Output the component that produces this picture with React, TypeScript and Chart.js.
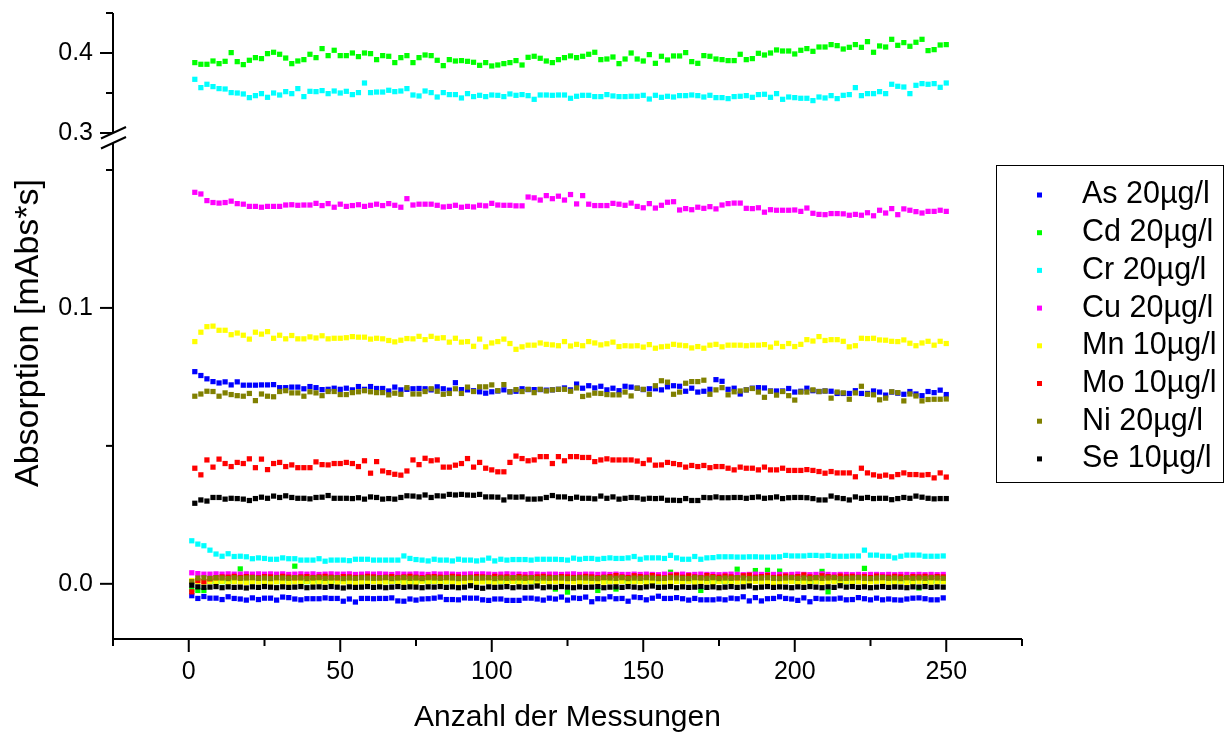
import { useEffect, useRef } from 'react';
import { Chart, registerables } from 'chart.js';

Chart.register(...registerables);

const FONT = '"Liberation Sans", Arial, Helvetica, sans-serif';

// Run numbers: blanks on odd runs, standards on even runs
const blankRuns = [1,3,5,7,9,11,13,15,17,19,21,23,25,27,29,31,33,35,37,39,41,43,45,47,49,51,53,55,57,59,61,63,65,67,69,71,73,75,77,79,81,83,85,87,89,91,93,95,97,99,101,103,105,107,109,111,113,115,117,119,121,123,125,127,129,131,133,135,137,139,141,143,145,147,149,151,153,155,157,159,161,163,165,167,169,171,173,175,177,179,181,183,185,187,189,191,193,195,197,199,201,203,205,207,209,211,213,215,217,219,221,223,225,227,229,231,233,235,237,239,241,243,245,247,249];
const standardRuns = [2,4,6,8,10,12,14,16,18,20,22,24,26,28,30,32,34,36,38,40,42,44,46,48,50,52,54,56,58,60,62,64,66,68,70,72,74,76,78,80,82,84,86,88,90,92,94,96,98,100,102,104,106,108,110,112,114,116,118,120,122,124,126,128,130,132,134,136,138,140,142,144,146,148,150,152,154,156,158,160,162,164,166,168,170,172,174,176,178,180,182,184,186,188,190,192,194,196,198,200,202,204,206,208,210,212,214,216,218,220,222,224,226,228,230,232,234,236,238,240,242,244,246,248,250];

const elementLabels = ['As 20µg/l', 'Cd 20µg/l', 'Cr 20µg/l', 'Cu 20µg/l', 'Mn 10µg/l', 'Mo 10µg/l', 'Ni 20µg/l', 'Se 10µg/l'];
const elementColors = ['#0000ff', '#00ff00', '#00ffff', '#ff00ff', '#ffff00', '#ff0000', '#808000', '#000000'];
// elements whose standards sit on the upper (broken-off) part of the axis
const upperAxisElements = ['Cd 20µg/l', 'Cr 20µg/l'];

// Absorption of the standards [mAbs*s]
const asStandard = [
  0.0769,0.0755,0.0743,0.0733,0.0728,0.0732,0.0721,0.0732,0.0720,0.0720,
  0.0720,0.0721,0.0721,0.0722,0.0711,0.0711,0.0713,0.0713,0.0707,0.0715,
  0.0711,0.0704,0.0705,0.0709,0.0705,0.0709,0.0703,0.0715,0.0705,0.0715,
  0.0708,0.0708,0.0699,0.0713,0.0703,0.0705,0.0707,0.0708,0.0707,0.0703,
  0.0714,0.0707,
  0.0702,0.0729,0.0704,0.0703,0.0700,0.0696,0.0691,0.0696,0.0699,0.0703,
  0.0696,0.0698,0.0707,0.0704,0.0704,0.0704,0.0702,0.0703,0.0705,0.0710,
  0.0703,0.0724,0.0709,0.0718,0.0710,0.0716,0.0703,0.0709,0.0700,0.0716,
  0.0713,0.0709,0.0704,0.0707,0.0707,0.0703,0.0714,0.0718,0.0716,0.0698,
  0.0709,0.0695,0.0698,0.0705,0.0740,0.0734,0.0705,0.0709,0.0688,0.0703,
  0.0709,0.0711,0.0710,0.0699,0.0699,0.0699,0.0708,0.0695,0.0698,0.0709,
  0.0700,0.0697,0.0699,0.0698,0.0690,0.0690,0.0690,0.0700,
  0.0690,0.0690,0.0699,0.0695,0.0684,0.0695,0.0691,0.0687,
  0.0697,0.0688,0.0682,0.0697,0.0693,0.0702,0.0686
];
const cdStandard = [
  0.3880,0.3859,0.3859,0.3900,0.3867,0.3896,0.4005,0.3892,0.3855,0.3909,
  0.3942,0.3930,0.3992,0.4009,0.3984,0.3937,0.3867,0.3900,0.3917,0.3984,
  0.3942,0.4055,0.3967,0.4034,0.3967,0.3967,0.4000,0.3955,0.4000,0.3992,
  0.3917,0.3967,
  0.3959,0.3880,0.3942,0.3967,0.3880,0.3942,0.3975,0.3967,0.3909,0.3842,
  0.3917,0.3900,0.3905,0.3896,0.3884,0.3846,0.3880,0.3838,0.3850,0.3867,
  0.3880,0.3905,0.3850,0.3946,0.3959,0.3934,0.3900,0.3880,0.3917,0.3942,
  0.3963,0.3942,0.3959,0.3984,0.4009,0.3917,0.3925,0.3950,0.3867,0.3925,
  0.4000,0.3925,0.3900,0.3980,0.3871,0.3959,0.3913,0.3963,0.3963,0.4005,
  0.3892,0.3871,0.3967,0.3959,0.3925,0.3917,0.3905,0.3905,0.3984,0.3917,
  0.3930,0.3996,0.3975,0.4000,0.4038,0.4025,0.4025,0.3988,0.4034,0.4055,
  0.4021,0.4075,0.4075,0.4105,0.4092,0.4050,0.4071,0.4105,0.4071,0.4142,
  0.4009,0.4088,0.4075,0.4171,0.4096,0.4130,0.4084,0.4134,0.4171,0.4030,
  0.4042,0.4100,0.4105
];
const crStandard = [
  0.3671,0.3567,0.3609,0.3580,0.3555,0.3550,0.3505,0.3500,0.3488,0.3442,
  0.3467,0.3492,0.3446,0.3500,0.3475,0.3517,0.3492,0.3555,0.3455,0.3521,
  0.3517,0.3530,0.3492,0.3525,0.3500,0.3521,0.3480,0.3505,0.3625,0.3505,
  0.3512,0.3512,
  0.3534,0.3517,0.3525,0.3555,0.3475,0.3463,0.3525,0.3505,0.3450,0.3505,
  0.3480,0.3480,0.3438,0.3492,0.3455,0.3471,0.3455,0.3475,0.3471,0.3455,
  0.3488,0.3471,0.3480,0.3467,0.3421,0.3475,0.3475,0.3471,0.3475,0.3475,
  0.3434,0.3459,0.3471,0.3471,0.3455,0.3455,0.3480,0.3463,0.3455,0.3455,
  0.3459,0.3459,0.3471,0.3425,0.3471,0.3446,0.3459,0.3450,0.3467,0.3467,
  0.3475,0.3467,0.3450,0.3471,0.3442,0.3442,0.3430,0.3455,0.3459,0.3467,
  0.3446,0.3480,0.3484,0.3446,0.3492,0.3421,0.3450,0.3442,0.3434,0.3434,
  0.3405,0.3450,0.3438,0.3467,0.3430,0.3471,0.3480,0.3567,0.3467,
  0.3492,0.3492,0.3517,0.3492,0.3609,0.3584,0.3575,0.3492,0.3596,0.3617,
  0.3609,0.3617,0.3571,0.3625
];
const cuStandard = [
  0.1419,0.1413,0.1389,0.1382,0.1380,0.1382,0.1387,0.1378,0.1376,0.1368,
  0.1368,0.1365,0.1368,0.1368,0.1368,0.1373,0.1374,0.1372,0.1373,0.1373,
  0.1379,0.1371,0.1378,0.1365,0.1376,0.1368,0.1371,0.1374,0.1368,0.1372,
  0.1376,0.1371,0.1378,0.1372,0.1365,0.1396,0.1373,0.1376,0.1376,0.1376,
  0.1372,0.1366,
  0.1368,0.1372,0.1365,0.1368,0.1366,0.1372,0.1370,0.1379,0.1373,0.1372,
  0.1372,0.1370,0.1370,0.1402,0.1399,0.1391,0.1407,0.1396,0.1405,0.1391,
  0.1411,0.1377,0.1407,0.1376,0.1371,0.1371,0.1371,0.1379,0.1376,0.1372,
  0.1380,0.1368,0.1363,0.1378,0.1362,0.1372,0.1383,0.1385,0.1355,0.1360,
  0.1356,0.1365,0.1361,0.1367,0.1359,0.1373,0.1378,0.1380,0.1380,0.1361,
  0.1360,0.1363,0.1347,0.1356,0.1354,0.1354,0.1354,0.1355,0.1350,0.1362,
  0.1343,0.1339,0.1338,0.1342,0.1342,0.1341,0.1336,0.1339,0.1336,
  0.1345,0.1334,0.1354,0.1344,0.1360,0.1338,0.1359,0.1354,0.1349,0.1344,
  0.1350,0.1350,0.1354,0.1350
];
const mnStandard = [
  0.0878,0.0912,0.0932,0.0934,0.0919,0.0919,0.0903,0.0909,0.0901,0.0887,
  0.0912,0.0905,0.0914,0.0890,0.0901,0.0888,0.0900,0.0888,0.0888,0.0895,
  0.0891,0.0899,0.0888,0.0890,0.0890,0.0892,0.0896,0.0894,0.0894,0.0887,
  0.0890,0.0888,0.0882,0.0877,0.0883,0.0889,0.0888,0.0897,0.0885,0.0897,
  0.0890,0.0892,
  0.0876,0.0890,0.0876,0.0878,0.0861,0.0887,0.0859,0.0873,0.0878,0.0887,
  0.0871,0.0850,0.0859,0.0865,0.0865,0.0873,0.0868,0.0866,0.0863,0.0878,
  0.0862,0.0868,0.0863,0.0878,0.0873,0.0866,0.0870,0.0876,0.0860,0.0863,
  0.0862,0.0863,0.0858,0.0867,0.0854,0.0859,0.0861,0.0868,0.0865,0.0863,
  0.0855,0.0860,0.0854,0.0865,0.0868,0.0859,0.0865,0.0865,0.0865,0.0863,
  0.0865,0.0865,0.0867,0.0858,0.0872,0.0860,0.0871,0.0860,0.0868,0.0885,
  0.0880,0.0896,0.0882,0.0885,0.0885,0.0879,0.0859,0.0863,
  0.0890,0.0889,0.0890,0.0884,0.0883,0.0879,0.0878,0.0884,
  0.0872,0.0863,0.0873,0.0879,0.0865,0.0879,0.0871
];
const moStandard = [
  0.0419,0.0395,0.0449,0.0423,0.0452,0.0436,0.0425,0.0440,0.0436,0.0453,
  0.0421,0.0452,0.0414,0.0436,0.0440,0.0425,0.0431,0.0421,0.0421,0.0421,
  0.0442,0.0432,0.0431,0.0436,0.0436,0.0440,0.0436,0.0425,0.0446,0.0401,
  0.0443,0.0409,0.0403,0.0397,0.0394,0.0409,0.0449,0.0432,0.0455,0.0446,
  0.0449,0.0423,0.0423,0.0430,0.0436,0.0454,0.0423,0.0440,0.0419,0.0413,
  0.0406,0.0406,0.0440,0.0463,0.0454,0.0446,0.0449,0.0461,0.0461,0.0436,
  0.0461,0.0446,0.0461,0.0461,0.0458,0.0458,0.0443,0.0449,0.0453,0.0449,
  0.0449,0.0449,0.0449,0.0445,0.0436,0.0449,0.0430,0.0431,0.0440,0.0436,
  0.0432,0.0423,0.0429,0.0425,0.0429,0.0421,0.0425,0.0425,0.0419,0.0413,
  0.0423,0.0419,0.0419,0.0413,0.0423,0.0413,0.0413,0.0419,0.0411,0.0411,
  0.0411,0.0414,0.0411,0.0407,0.0401,0.0407,0.0402,0.0402,0.0402,0.0388,
  0.0419,0.0402,0.0395,0.0390,0.0394,0.0388,0.0396,0.0402,0.0396,0.0396,
  0.0394,0.0396,0.0384,0.0402,0.0387
];
const niStandard = [
  0.0680,0.0688,0.0698,0.0697,0.0680,0.0692,0.0686,0.0682,0.0680,0.0690,
  0.0664,0.0688,0.0680,0.0678,0.0697,0.0700,0.0692,0.0692,0.0680,0.0696,
  0.0692,0.0682,0.0697,0.0697,0.0686,0.0686,0.0693,0.0696,0.0700,0.0696,
  0.0693,0.0693,0.0685,0.0691,0.0687,0.0711,0.0688,0.0688,0.0697,0.0707,
  0.0698,0.0687,
  0.0690,0.0707,0.0690,0.0713,0.0697,0.0714,0.0714,0.0721,0.0700,0.0722,
  0.0696,0.0704,0.0697,0.0705,0.0693,0.0705,0.0699,0.0703,0.0705,0.0705,
  0.0698,0.0710,0.0679,0.0684,0.0691,0.0690,0.0686,0.0685,0.0685,0.0695,
  0.0681,0.0709,0.0705,0.0687,0.0718,0.0736,0.0731,0.0687,0.0695,0.0727,
  0.0733,0.0733,0.0738,0.0687,0.0703,0.0711,0.0685,0.0696,0.0699,0.0703,
  0.0708,0.0695,0.0676,0.0698,0.0684,0.0697,0.0682,0.0666,0.0695,0.0695,
  0.0703,0.0697,0.0699,0.0673,0.0695,0.0692,0.0669,0.0692,
  0.0716,0.0687,0.0685,0.0667,0.0673,0.0696,0.0693,0.0663,
  0.0688,0.0681,0.0663,0.0668,0.0669,0.0669,0.0670
];
const seStandard = [
  0.0292,0.0304,0.0300,0.0313,0.0313,0.0307,0.0310,0.0309,0.0307,0.0302,
  0.0309,0.0314,0.0310,0.0318,0.0313,0.0319,0.0313,0.0310,0.0310,0.0308,
  0.0313,0.0314,0.0320,0.0310,0.0310,0.0310,0.0309,0.0312,0.0307,0.0315,
  0.0313,0.0307,0.0309,0.0307,0.0313,0.0319,0.0318,0.0315,0.0322,0.0313,
  0.0319,0.0318,0.0324,0.0322,0.0324,0.0322,0.0321,0.0324,0.0315,0.0315,
  0.0314,0.0304,0.0315,0.0314,0.0315,0.0307,0.0307,0.0308,0.0313,0.0320,
  0.0315,0.0315,0.0309,0.0314,0.0310,0.0310,0.0308,0.0318,0.0310,0.0315,
  0.0307,0.0310,0.0313,0.0312,0.0307,0.0310,0.0309,0.0310,0.0303,0.0303,
  0.0302,0.0309,0.0302,0.0302,0.0313,0.0312,0.0315,0.0312,0.0312,0.0313,
  0.0313,0.0310,0.0313,0.0315,0.0310,0.0312,0.0315,0.0309,0.0312,0.0313,
  0.0313,0.0312,0.0309,0.0304,0.0304,0.0318,0.0312,0.0309,0.0304,0.0315,
  0.0310,0.0313,0.0309,0.0310,0.0310,0.0305,0.0309,0.0313,0.0310,0.0318,
  0.0314,0.0310,0.0308,0.0309,0.0309
];

// Absorption of the blanks [mAbs*s]
const asBlank = [
  -0.0043,-0.0053,-0.0046,-0.0052,-0.0052,-0.0057,-0.0047,-0.0053,-0.0055,-0.0059,
  -0.0051,-0.0057,-0.0052,-0.0052,-0.0059,-0.0048,-0.0050,-0.0055,-0.0058,-0.0054,
  -0.0054,-0.0054,-0.0051,-0.0053,-0.0053,-0.0063,-0.0055,-0.0066,-0.0053,-0.0053,
  -0.0054,-0.0053,-0.0053,-0.0051,-0.0062,-0.0063,-0.0055,-0.0059,-0.0055,-0.0054,
  -0.0052,
  -0.0048,-0.0057,-0.0057,-0.0058,-0.0051,-0.0052,-0.0052,-0.0058,-0.0060,-0.0055,
  -0.0055,-0.0060,-0.0060,-0.0060,-0.0052,-0.0052,-0.0055,-0.0059,-0.0052,-0.0055,
  -0.0048,-0.0059,-0.0051,-0.0053,-0.0048,-0.0065,-0.0054,-0.0055,-0.0047,-0.0054,
  -0.0053,-0.0063,-0.0048,-0.0050,-0.0058,-0.0052,-0.0045,-0.0053,-0.0053,-0.0050,
  -0.0054,-0.0059,-0.0053,-0.0058,-0.0058,-0.0058,-0.0055,-0.0058,-0.0052,-0.0054,
  -0.0047,-0.0062,-0.0050,-0.0062,-0.0054,-0.0053,-0.0047,-0.0053,-0.0055,-0.0060,
  -0.0051,-0.0065,-0.0053,-0.0055,-0.0055,-0.0055,-0.0052,-0.0058,-0.0057,-0.0050,
  -0.0054,-0.0058,-0.0052,-0.0058,-0.0055,-0.0058,-0.0059,-0.0055,-0.0052,-0.0051,
  -0.0054,-0.0058,-0.0058,-0.0051
];
const cdBlank = [
  -0.0022,-0.0024,-0.0024,0.0009,0.0010,0.0008,0.0011,0.0009,0.0054,0.0010,
  0.0008,0.0011,0.0009,0.0010,0.0008,0.0012,0.0009,0.0064,0.0010,0.0008,
  0.0011,0.0009,0.0010,0.0008,0.0012,0.0009,0.0010,0.0011,0.0008,0.0009,
  0.0010,0.0012,0.0008,0.0009,0.0011,0.0010,0.0008,0.0009,0.0012,0.0010,
  0.0009,0.0011,0.0008,0.0010,0.0009,0.0012,0.0010,0.0008,0.0011,0.0009,
  0.0010,0.0008,0.0012,0.0009,0.0011,0.0010,0.0008,0.0009,0.0011,0.0010,
  -0.0019,0.0009,-0.0030,0.0011,0.0008,0.0010,0.0012,-0.0024,0.0009,0.0010,
  -0.0019,0.0011,0.0008,0.0010,0.0009,0.0012,0.0010,0.0008,0.0011,0.0042,
  0.0009,0.0010,0.0012,0.0008,-0.0024,0.0011,0.0009,0.0010,0.0008,0.0012,
  0.0053,0.0009,0.0011,0.0048,0.0010,0.0049,0.0008,0.0046,0.0012,0.0009,
  0.0011,0.0010,0.0008,0.0009,0.0045,-0.0029,0.0012,0.0010,0.0008,0.0011,
  0.0009,0.0056,0.0010,0.0012,0.0008,0.0011,0.0009,0.0010,0.0012,0.0008,
  -0.0015,0.0010,0.0009,0.0011,0.0010
];
const crBlank = [
  0.0156,0.0144,0.0138,0.0122,0.0108,0.0100,0.0109,0.0099,0.0100,0.0098,
  0.0091,0.0094,0.0092,0.0089,0.0089,0.0094,0.0091,0.0091,0.0086,0.0086,
  0.0086,0.0091,0.0082,0.0086,0.0086,0.0086,0.0084,0.0089,0.0089,0.0089,
  0.0086,0.0086,0.0086,0.0086,0.0086,0.0101,0.0092,0.0088,0.0086,0.0083,
  0.0089,0.0086,0.0086,0.0083,0.0089,0.0086,0.0086,0.0083,0.0086,0.0093,
  0.0083,0.0089,0.0086,0.0088,0.0088,0.0088,0.0086,0.0089,0.0089,0.0089,
  0.0089,0.0088,0.0086,0.0093,0.0089,0.0092,0.0092,0.0089,0.0092,0.0094,
  0.0092,0.0092,0.0094,0.0099,0.0089,0.0094,0.0094,0.0094,0.0092,0.0103,
  0.0094,0.0089,0.0089,0.0099,0.0089,0.0094,0.0095,0.0098,0.0098,0.0098,
  0.0097,0.0097,0.0098,0.0098,0.0097,0.0097,0.0097,0.0098,0.0103,0.0101,
  0.0101,0.0101,0.0103,0.0103,0.0101,0.0103,0.0100,0.0100,0.0100,0.0101,
  0.0101,0.0122,0.0104,0.0104,0.0100,0.0100,0.0094,0.0100,0.0104,0.0104,
  0.0104,0.0100,0.0100,0.0100,0.0101
];
const cuBlank = [
  0.0040,0.0037,0.0035,0.0035,0.0036,0.0035,0.0036,0.0035,0.0035,0.0036,
  0.0035,0.0036,0.0035,0.0036,0.0035,0.0036,0.0034,0.0035,0.0036,0.0035,
  0.0036,0.0034,0.0035,0.0036,0.0035,0.0035,0.0036,0.0034,0.0035,0.0036,
  0.0035,0.0036,0.0035,0.0034,0.0036,0.0035,0.0035,0.0036,0.0035,0.0034,
  0.0036,0.0035,0.0036,0.0035,0.0034,0.0035,0.0036,0.0035,0.0036,0.0035,
  0.0034,0.0035,0.0036,0.0035,0.0035,0.0034,0.0036,0.0035,0.0034,0.0035,
  0.0035,0.0034,0.0035,0.0036,0.0034,0.0035,0.0035,0.0034,0.0035,0.0034,
  0.0035,0.0034,0.0034,0.0035,0.0034,0.0035,0.0034,0.0033,0.0035,0.0034,
  0.0034,0.0035,0.0033,0.0034,0.0035,0.0034,0.0034,0.0033,0.0034,0.0035,
  0.0034,0.0033,0.0034,0.0035,0.0034,0.0033,0.0034,0.0034,0.0033,0.0034,
  0.0035,0.0034,0.0033,0.0034,0.0036,0.0034,0.0033,0.0034,0.0034,0.0033,
  0.0034,0.0033,0.0034,0.0034,0.0033,0.0034,0.0033,0.0034,0.0034,0.0033,
  0.0034,0.0033,0.0034,0.0033,0.0034
];
const mnBlank = [
  0.0012,0.0009,0.0006,0.0008,0.0007,0.0009,0.0006,0.0008,0.0007,0.0005,
  0.0008,0.0007,0.0009,0.0006,0.0008,0.0007,0.0005,0.0008,0.0007,0.0009,
  0.0006,0.0008,0.0007,0.0009,0.0006,0.0007,0.0008,0.0005,0.0007,0.0009,
  0.0008,0.0006,0.0007,0.0009,0.0008,0.0006,0.0007,0.0005,0.0008,0.0007,
  0.0009,0.0006,0.0008,0.0007,0.0005,0.0008,0.0009,0.0006,0.0007,0.0008,
  0.0006,0.0009,0.0007,0.0008,0.0006,0.0007,0.0009,0.0005,0.0008,0.0007,
  0.0008,0.0006,0.0009,0.0007,0.0005,0.0008,0.0007,0.0009,0.0006,0.0008,
  0.0007,0.0009,0.0006,0.0008,0.0007,0.0005,0.0008,0.0009,0.0007,0.0006,
  0.0008,0.0007,0.0009,0.0006,0.0008,0.0007,0.0005,0.0008,0.0009,0.0006,
  0.0007,0.0008,0.0006,0.0009,0.0007,0.0008,0.0005,0.0007,0.0009,0.0008,
  0.0006,0.0007,0.0009,0.0008,0.0006,0.0007,0.0008,0.0005,0.0009,0.0007,
  0.0008,0.0006,0.0007,0.0009,0.0008,0.0006,0.0007,0.0008,0.0005,0.0007,
  0.0009,0.0008,0.0006,0.0007,0.0008
];
const moBlank = [
  -0.0029,0.0012,0.0008,0.0018,0.0022,0.0025,0.0024,0.0027,0.0023,0.0026,
  0.0024,0.0022,0.0026,0.0025,0.0023,0.0027,0.0024,0.0022,0.0025,0.0026,
  0.0023,0.0025,0.0027,0.0024,0.0022,0.0026,0.0025,0.0023,0.0024,0.0027,
  0.0025,0.0022,0.0024,0.0026,0.0023,0.0025,0.0027,0.0024,0.0022,0.0025,
  0.0026,0.0024,0.0023,0.0027,0.0025,0.0022,0.0024,0.0026,0.0025,0.0023,
  0.0027,0.0024,0.0025,0.0022,0.0026,0.0024,0.0023,0.0025,0.0027,0.0024,
  0.0022,0.0026,0.0025,0.0023,0.0024,0.0027,0.0025,0.0022,0.0024,0.0026,
  0.0030,0.0025,0.0023,0.0029,0.0026,0.0024,0.0030,0.0025,0.0022,0.0028,
  0.0031,0.0024,0.0029,0.0025,0.0023,0.0030,0.0026,0.0024,0.0028,0.0025,
  0.0022,0.0029,0.0031,0.0024,0.0026,0.0030,0.0023,0.0025,0.0028,0.0024,
  0.0026,0.0032,0.0025,0.0023,0.0029,0.0026,0.0024,0.0028,0.0025,0.0027,
  0.0024,0.0026,0.0023,0.0028,0.0025,0.0024,0.0027,0.0025,0.0023,0.0026,
  0.0025,0.0027,0.0024,0.0026,0.0025
];
const niBlank = [
  0.0008,0.0021,0.0022,0.0020,0.0022,0.0021,0.0019,0.0022,0.0020,0.0021,
  0.0022,0.0020,0.0021,0.0019,0.0022,0.0021,0.0020,0.0022,0.0021,0.0019,
  0.0021,0.0022,0.0020,0.0021,0.0022,0.0019,0.0021,0.0020,0.0022,0.0021,
  0.0020,0.0021,0.0022,0.0019,0.0021,0.0022,0.0020,0.0021,0.0019,0.0022,
  0.0021,0.0020,0.0022,0.0021,0.0019,0.0021,0.0022,0.0020,0.0021,0.0022,
  0.0019,0.0021,0.0020,0.0022,0.0021,0.0020,0.0022,0.0019,0.0021,0.0020,
  0.0022,0.0021,0.0019,0.0020,0.0022,0.0021,0.0020,0.0019,0.0022,0.0021,
  0.0020,0.0022,0.0019,0.0021,0.0020,0.0022,0.0021,0.0019,0.0020,0.0022,
  0.0021,0.0020,0.0019,0.0022,0.0021,0.0020,0.0022,0.0019,0.0021,0.0020,
  0.0022,0.0021,0.0019,0.0020,0.0021,0.0022,0.0020,0.0019,0.0021,0.0022,
  0.0020,0.0021,0.0019,0.0022,0.0020,0.0021,0.0022,0.0019,0.0020,0.0021,
  0.0022,0.0020,0.0019,0.0021,0.0022,0.0020,0.0021,0.0019,0.0022,0.0020,
  0.0021,0.0020,0.0022,0.0021,0.0020
];
const seBlank = [
  -0.0005,-0.0011,-0.0013,-0.0012,-0.0010,-0.0014,-0.0011,-0.0013,-0.0012,-0.0015,
  -0.0011,-0.0013,-0.0010,-0.0012,-0.0014,-0.0011,-0.0013,-0.0012,-0.0010,-0.0014,
  -0.0012,-0.0011,-0.0013,-0.0010,-0.0012,-0.0015,-0.0011,-0.0013,-0.0012,-0.0010,
  -0.0013,-0.0011,-0.0014,-0.0012,-0.0010,-0.0013,-0.0011,-0.0012,-0.0014,-0.0011,
  -0.0012,-0.0010,-0.0013,-0.0011,-0.0014,-0.0012,-0.0007,-0.0013,-0.0016,-0.0011,
  -0.0013,-0.0012,-0.0010,-0.0014,-0.0011,-0.0013,-0.0012,-0.0008,-0.0014,-0.0011,
  -0.0013,-0.0010,-0.0012,-0.0014,-0.0011,-0.0013,-0.0012,-0.0010,-0.0014,-0.0012,
  -0.0011,-0.0013,-0.0010,-0.0012,-0.0014,-0.0011,-0.0008,-0.0013,-0.0012,-0.0010,
  -0.0014,-0.0011,-0.0013,-0.0012,-0.0010,-0.0013,-0.0011,-0.0014,-0.0012,-0.0010,
  -0.0013,-0.0011,-0.0008,-0.0014,-0.0012,-0.0010,-0.0013,-0.0011,-0.0012,-0.0014,
  -0.0011,-0.0013,-0.0010,-0.0012,-0.0014,-0.0011,-0.0013,-0.0007,-0.0012,-0.0010,
  -0.0013,-0.0011,-0.0014,-0.0012,-0.0010,-0.0013,-0.0011,-0.0012,-0.0014,-0.0011,
  -0.0012,-0.0010,-0.0013,-0.0011,-0.0012
];

const standardSeries = [asStandard, cdStandard, crStandard, cuStandard, mnStandard, moStandard, niStandard, seStandard];
const blankSeries = [asBlank, cdBlank, crBlank, cuBlank, mnBlank, moBlank, niBlank, seBlank];

// Axis ticks
const xMajorTicks = [0, 50, 100, 150, 200, 250];
const xMinorTicks = [-25, 25, 75, 125, 175, 225, 275];
const upperMajorTicks = [0.3, 0.4];
const upperMinorTicks = [0.35, 0.45];
const lowerMajorTicks = [0.0, 0.1];
const lowerMinorTicks = [0.05, 0.15];

const xTitle = 'Anzahl der Messungen';
const yTitle = 'Absorption [mAbs*s]';

const MAJOR_LEN = 13;
const MINOR_LEN = 7;

const frame = {
  id: 'frame',
  afterDraw(chart: any) {
    const { ctx, chartArea, scales } = chart;
    const xs = scales.x;
    const yT = scales.yTop;
    const yB = scales.yBot;
    const ax = chartArea.left;
    const bottom = chartArea.bottom;
    const seam = yT.bottom;
    const line = (x1: number, y1: number, x2: number, y2: number) => {
      ctx.beginPath();
      ctx.moveTo(x1, y1);
      ctx.lineTo(x2, y2);
      ctx.stroke();
    };

    ctx.save();
    ctx.strokeStyle = '#000';
    ctx.lineWidth = 2;
    ctx.lineCap = 'butt';

    // axis lines, y axis interrupted at the seam
    line(ax, yT.top, ax, seam - 5);
    line(ax, seam + 5, ax, bottom + 1);
    line(ax - 1, bottom, chartArea.right, bottom);

    // tick marks
    upperMajorTicks.forEach((v) => { const p = yT.getPixelForValue(v); line(ax - MAJOR_LEN, p, ax, p); });
    upperMinorTicks.forEach((v) => { const p = yT.getPixelForValue(v); line(ax - MINOR_LEN, p, ax, p); });
    lowerMajorTicks.forEach((v) => { const p = yB.getPixelForValue(v); line(ax - MAJOR_LEN, p, ax, p); });
    lowerMinorTicks.forEach((v) => { const p = yB.getPixelForValue(v); line(ax - MINOR_LEN, p, ax, p); });
    xMajorTicks.forEach((v) => { const p = xs.getPixelForValue(v); line(p, bottom, p, bottom + MAJOR_LEN); });
    xMinorTicks.forEach((v) => { const p = xs.getPixelForValue(v); line(p, bottom, p, bottom + MINOR_LEN); });

    // axis break marks
    [-5, 5].forEach((o) => line(ax - 12, seam + o + 5.5, ax + 13, seam + o - 6));

    // axis titles
    ctx.fillStyle = '#000';
    ctx.font = `30px ${FONT}`;
    ctx.textAlign = 'center';
    ctx.textBaseline = 'alphabetic';
    ctx.fillText(xTitle, (chartArea.left + chartArea.right) / 2, 726);
    ctx.save();
    ctx.font = `34px ${FONT}`;
    ctx.translate(38, 333);
    ctx.rotate(-Math.PI / 2);
    ctx.fillText(yTitle, 0, 0);
    ctx.restore();

    // legend box
    ctx.lineWidth = 1;
    ctx.strokeRect(996.5, 165.5, 227, 317);
    ctx.font = `30.5px ${FONT}`;
    ctx.textAlign = 'left';
    ctx.textBaseline = 'middle';
    elementLabels.forEach((label, i) => {
      const y = 195 + i * 37.7;
      ctx.fillStyle = elementColors[i];
      ctx.fillRect(1037, y - 2.5, 5, 5);
      ctx.fillStyle = '#000';
      ctx.fillText(label, 1082, y);
    });
    ctx.restore();
  },
};

const tickFont = { family: FONT, size: 25 };

function buildDatasets() {
  const sets: any[] = [];
  elementLabels.forEach((label, i) => {
    const color = elementColors[i];
    const common = {
      label,
      backgroundColor: color,
      borderColor: color,
      pointStyle: 'rect',
      pointRadius: 3.7,
      pointHoverRadius: 3.7,
      pointBorderWidth: 0,
      showLine: false,
    };
    sets.push({
      ...common,
      yAxisID: upperAxisElements.includes(label) ? 'yTop' : 'yBot',
      order: 100 - 2 * i,
      data: standardRuns.map((x, k) => ({ x, y: standardSeries[i][k] })),
    });
    sets.push({
      ...common,
      yAxisID: 'yBot',
      order: 99 - 2 * i,
      data: blankRuns.map((x, k) => ({ x, y: blankSeries[i][k] })),
    });
  });
  return sets;
}

export default function App() {
  const canvasRef = useRef<HTMLCanvasElement | null>(null);

  useEffect(() => {
    const canvas = canvasRef.current;
    if (!canvas) return;
    const chart = new Chart(canvas, {
      type: 'scatter',
      data: { datasets: buildDatasets() },
      options: {
        responsive: false,
        devicePixelRatio: 1,
        animation: false,
        events: [],
        layout: { padding: { top: 13, right: 203, left: 0, bottom: 0 } },
        plugins: { legend: { display: false }, tooltip: { enabled: false } },
        scales: {
          x: {
            type: 'linear',
            position: 'bottom',
            min: -25,
            max: 275,
            grid: { display: false, tickLength: MAJOR_LEN },
            border: { display: false },
            ticks: { font: tickFont, color: '#000', padding: 5, maxRotation: 0, autoSkip: false },
            afterBuildTicks: (s: any) => { s.ticks = xMajorTicks.map((value) => ({ value })); },
            afterFit: (s: any) => { s.height = 94; s.paddingLeft = 0; s.paddingRight = 0; },
          },
          yTop: {
            type: 'linear',
            position: 'left',
            stack: 'absorption',
            stackWeight: 125,
            weight: 1,
            min: 0.29375,
            max: 0.45,
            grid: { display: false, tickLength: MAJOR_LEN },
            border: { display: false },
            ticks: { font: tickFont, color: '#000', padding: 7, callback: (v: any) => Number(v).toFixed(1) },
            afterBuildTicks: (s: any) => { s.ticks = upperMajorTicks.map((value) => ({ value })); },
            afterFit: (s: any) => { s.width = 113; s.paddingTop = 0; s.paddingBottom = 0; },
          },
          yBot: {
            type: 'linear',
            position: 'left',
            stack: 'absorption',
            stackWeight: 501,
            weight: 0,
            min: -0.02,
            max: 0.16159,
            grid: { display: false, tickLength: MAJOR_LEN },
            border: { display: false },
            ticks: { font: tickFont, color: '#000', padding: 7, callback: (v: any) => Number(v).toFixed(1) },
            afterBuildTicks: (s: any) => { s.ticks = lowerMajorTicks.map((value) => ({ value })); },
            afterFit: (s: any) => { s.width = 113; s.paddingTop = 0; s.paddingBottom = 0; },
          },
        },
      } as any,
      plugins: [frame],
    });
    return () => chart.destroy();
  }, []);

  return (
    <div style={{ position: 'fixed', left: 0, top: 0, width: 1225, height: 733, background: '#fff' }}>
      <canvas ref={canvasRef} width={1225} height={733} style={{ display: 'block' }} />
    </div>
  );
}
